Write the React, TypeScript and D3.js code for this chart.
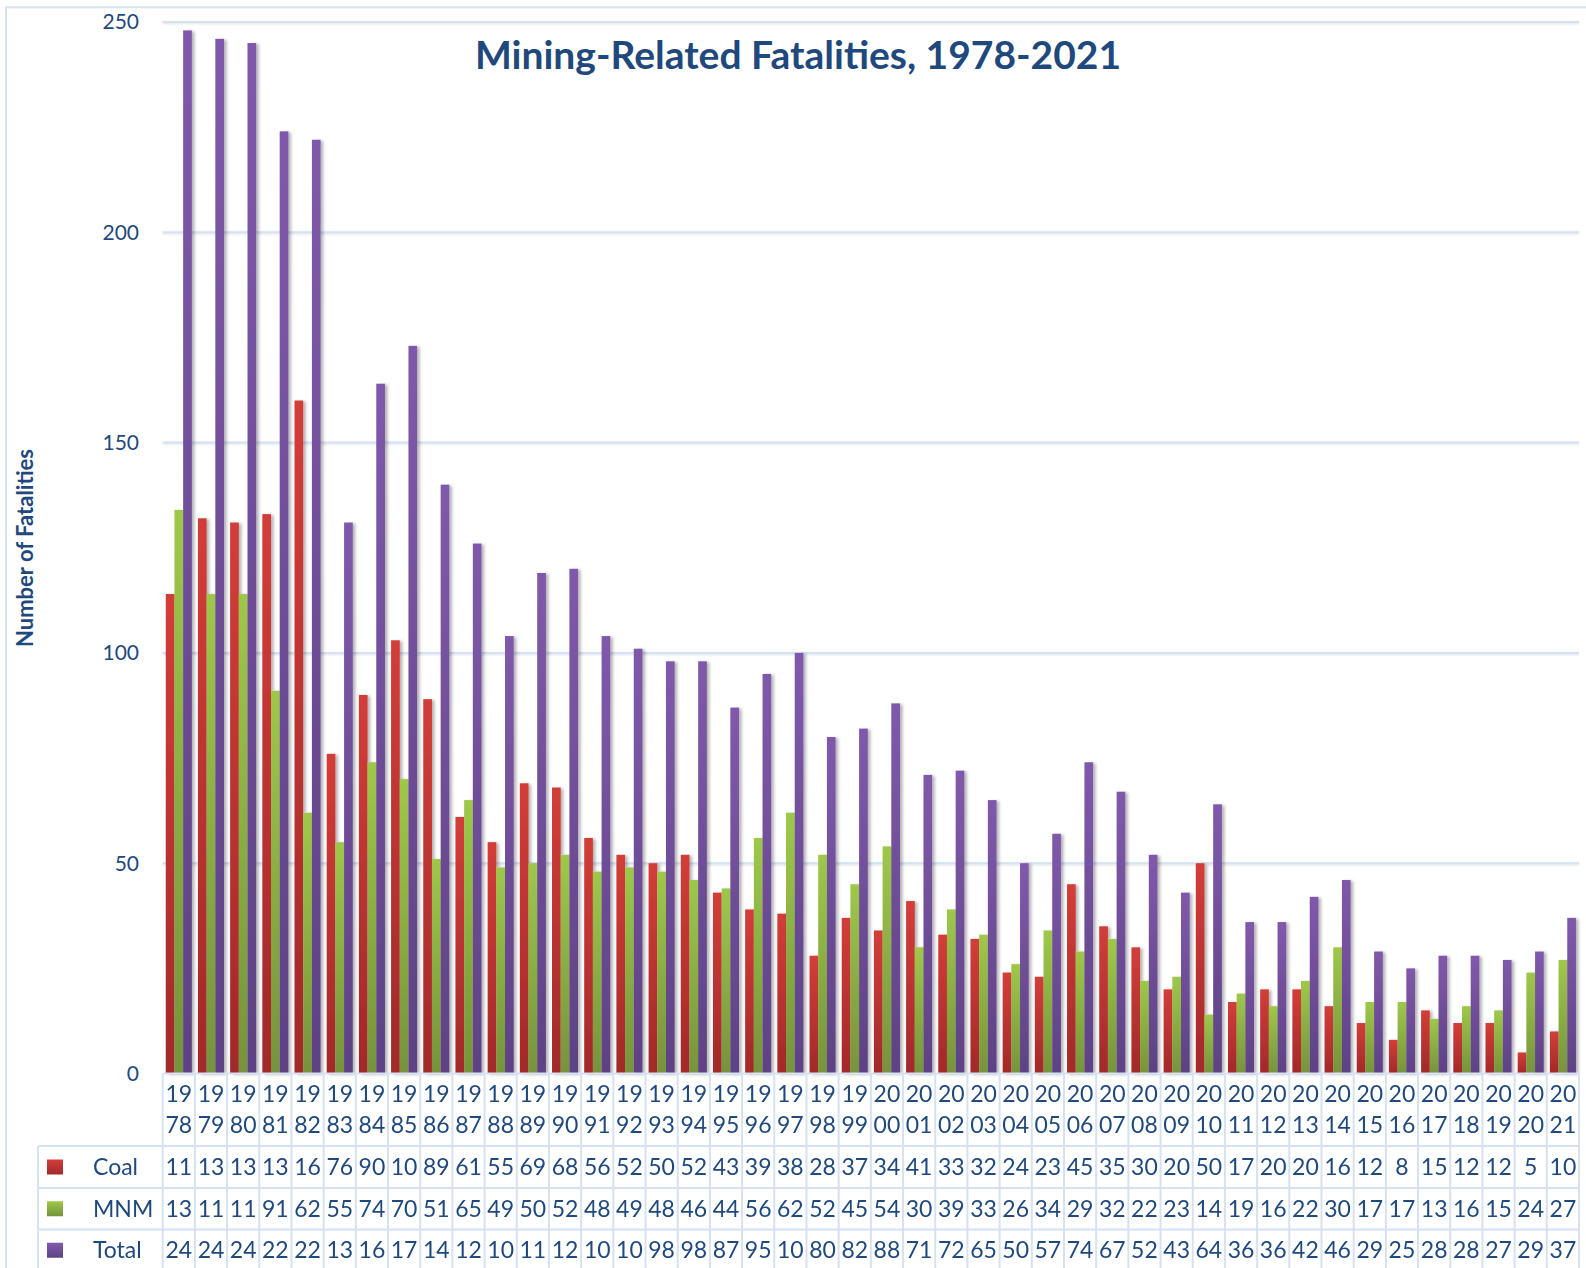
import React from 'react'
import * as d3 from 'd3'

const years = ['1978', '1979', '1980', '1981', '1982', '1983', '1984', '1985', '1986', '1987', '1988', '1989', '1990', '1991', '1992', '1993', '1994', '1995', '1996', '1997', '1998', '1999', '2000', '2001', '2002', '2003', '2004', '2005', '2006', '2007', '2008', '2009', '2010', '2011', '2012', '2013', '2014', '2015', '2016', '2017', '2018', '2019', '2020', '2021']
const coal = [114, 132, 131, 133, 160, 76, 90, 103, 89, 61, 55, 69, 68, 56, 52, 50, 52, 43, 39, 38, 28, 37, 34, 41, 33, 32, 24, 23, 45, 35, 30, 20, 50, 17, 20, 20, 16, 12, 8, 15, 12, 12, 5, 10]
const mnm = [134, 114, 114, 91, 62, 55, 74, 70, 51, 65, 49, 50, 52, 48, 49, 48, 46, 44, 56, 62, 52, 45, 54, 30, 39, 33, 26, 34, 29, 32, 22, 23, 14, 19, 16, 22, 30, 17, 17, 13, 16, 15, 24, 27]
const total = [248, 246, 245, 224, 222, 131, 164, 173, 140, 126, 104, 119, 120, 104, 101, 98, 98, 87, 95, 100, 80, 82, 88, 71, 72, 65, 50, 57, 74, 67, 52, 43, 64, 36, 36, 42, 46, 29, 25, 28, 28, 27, 29, 37]
const seriesNames = ['Coal', 'MNM', 'Total']
const yTicks = [0, 50, 100, 150, 200, 250]

const W = 1586
const H = 1268
const left = 162.7
const right = 1579
const top = 22
const base = 1073.5
const rowY = [1146, 1188, 1229.5, 1271]
const textColor = '#1F497D'
const lineColor = '#D6E2F1'
const font = 'Lato, "Open Sans", sans-serif'

// light top -> dark bottom, like the excel fill
const grads = [
  ['#D33D38', '#A2292A'],
  ['#9EC84A', '#76933C'],
  ['#8059AB', '#5E4284'],
]

export default function App() {
  const series = [coal, mnm, total]

  const x = d3.scaleBand().domain(years).range([left, right])
  const x1 = d3.scaleBand().domain(seriesNames).range([3.05, x.bandwidth() - 3.05])
  const y = d3.scaleLinear().domain([0, 250]).range([base, top])

  // excel data table clips 3-digit values to 2 chars
  const cell = (v) => {
    let s = String(v)
    return s.length > 2 ? s.slice(0, 2) : s
  }

  return (
    <svg width={W} height={H} style={{ position: 'absolute', left: 0, top: 0, background: '#fff' }} fontFamily={font}>
      <defs>
        {grads.map((g, i) => (
          <linearGradient key={i} id={'g' + i} x1="0" y1="0" x2="0" y2="1">
            <stop offset="0" stopColor={g[0]} />
            <stop offset="1" stopColor={g[1]} />
          </linearGradient>
        ))}
        <filter id="shadow" x="-50%" y="-5%" width="200%" height="110%">
          <feDropShadow dx="2.5" dy="1" stdDeviation="1.6" floodColor="#000" floodOpacity="0.3" />
        </filter>
        <filter id="lshadow" x="-5%" y="-100%" width="110%" height="300%">
          <feDropShadow dx="0" dy="1" stdDeviation="0.8" floodColor="#9aa8b8" floodOpacity="0.35" />
        </filter>
      </defs>

      {/* chart border */}
      <rect x={6} y={7.3} width={W + 10} height={H + 10} fill="none" stroke={lineColor} strokeWidth={2} />

      {/* gridlines */}
      <g filter="url(#lshadow)">
        {yTicks.slice(1).map(t => (
          <line key={t} x1={left} x2={right} y1={y(t)} y2={y(t)} stroke={lineColor} strokeWidth={2} />
        ))}
      </g>

      {/* y tick labels */}
      {yTicks.map(t => (
        <text key={t} x={139} y={y(t)} dy="0.35em" textAnchor="end" fontSize={21} fill={textColor}>{t}</text>
      ))}

      <text transform={`translate(25,548) rotate(-90)`} textAnchor="middle" dy="0.35em" fontSize={22} fontWeight={700} fill={textColor}>
        Number of Fatalities
      </text>

      <text x={798} y={69} textAnchor="middle" fontSize={39} fontWeight={700} fill={textColor}>
        Mining-Related Fatalities, 1978-2021
      </text>

      {/* bars */}
      <g filter="url(#shadow)">
        {years.map((yr, i) => (
          <g key={yr} transform={`translate(${x(yr)},0)`}>
            {series.map((s, j) => (
              <rect key={j} x={x1(seriesNames[j])} y={y(s[i])} width={x1.bandwidth()} height={base - y(s[i])} fill={`url(#g${j})`} />
            ))}
          </g>
        ))}
      </g>

      {/* data table */}
      <g stroke={lineColor} strokeWidth={2} fill="none">
        <line x1={left} x2={right} y1={base} y2={base} />
        {rowY.map((ry, i) => (
          <line key={i} x1={38} x2={right} y1={ry} y2={ry} />
        ))}
        <line x1={38} x2={38} y1={rowY[0]} y2={H} />
        {years.map(yr => (
          <line key={yr} x1={x(yr)} x2={x(yr)} y1={base} y2={H} />
        ))}
        <line x1={right} x2={right} y1={base} y2={H} />
      </g>

      {years.map(yr => (
        <g key={yr} fontSize={23} fill={textColor} textAnchor="middle">
          <text x={x(yr) + x.bandwidth() / 2} y={1094} dy="0.35em">{yr.slice(0, 2)}</text>
          <text x={x(yr) + x.bandwidth() / 2} y={1125} dy="0.35em">{yr.slice(2)}</text>
        </g>
      ))}

      {seriesNames.map((name, j) => {
        let cy = (rowY[j] + rowY[j + 1]) / 2
        return (
          <g key={name}>
            <rect x={47} y={cy - 7.5} width={16} height={15} fill={`url(#g${j})`} />
            <text x={93} y={cy} dy="0.35em" fontSize={23} fill={textColor}>{name}</text>
            {years.map((yr, i) => (
              <text key={yr} x={x(yr) + x.bandwidth() / 2} y={cy} dy="0.35em" textAnchor="middle" fontSize={23} fill={textColor}>
                {cell(series[j][i])}
              </text>
            ))}
          </g>
        )
      })}
    </svg>
  )
}
